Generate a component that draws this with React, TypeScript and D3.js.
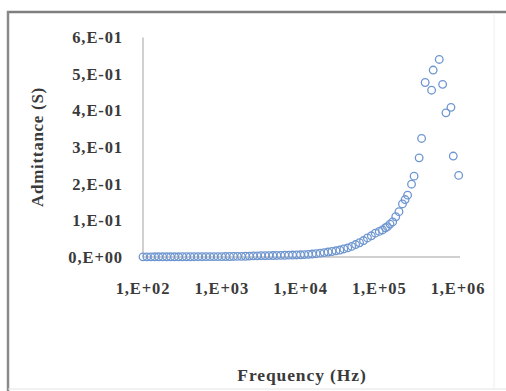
import React from "react"
import * as d3 from "d3"

const frequency = [
  100, 112, 126, 141, 158, 178, 200, 224, 251, 282, 316, 355, 398, 447, 501, 562, 631, 708, 794, 891,
  1000, 1120, 1260, 1410, 1580, 1780, 2000, 2240, 2510, 2820, 3160, 3550, 3980, 4470, 5010, 5620, 6310, 7080, 7940, 8910,
  10000, 11200, 12600, 14100, 15800, 17800, 20000, 22400, 25100, 28200, 31600, 35500, 39800, 44700, 50100, 56200, 63100, 70800, 79400, 89100,
  100000, 110000, 120000, 127000, 137000, 148000, 162000, 178000, 197000, 213000, 229000, 257000, 277000, 321000, 345000,
  383000, 462000, 484000, 578000, 638000, 703000, 814000, 871000, 1020000,
]
const admittance = [
  0.0004, 0.0004, 0.0004, 0.0005, 0.0005, 0.0005, 0.0005, 0.0006, 0.0006, 0.0006, 0.0007, 0.0007, 0.0007, 0.0008, 0.0008, 0.0008, 0.0009, 0.0009, 0.001, 0.001,
  0.001, 0.0012, 0.0013, 0.0015, 0.0016, 0.0018, 0.002, 0.0025, 0.003, 0.0032, 0.0035, 0.0036, 0.0038, 0.004, 0.0042, 0.0045, 0.0048, 0.005, 0.0053, 0.0056,
  0.006, 0.0065, 0.0072, 0.008, 0.009, 0.0105, 0.012, 0.0135, 0.015, 0.017, 0.019, 0.022, 0.025, 0.029, 0.034, 0.039, 0.045, 0.052, 0.058, 0.065,
  0.07, 0.074, 0.08, 0.083, 0.09, 0.096, 0.11, 0.124, 0.145, 0.157, 0.169, 0.199, 0.221, 0.271, 0.324,
  0.477, 0.456, 0.511, 0.54, 0.472, 0.394, 0.409, 0.276, 0.223,
]

const xTicks = [1e2, 1e3, 1e4, 1e5, 1e6]
const xTickLabels = ["1,E+02", "1,E+03", "1,E+04", "1,E+05", "1,E+06"]
const yTicks = [0, 0.1, 0.2, 0.3, 0.4, 0.5, 0.6]
const yTickLabels = ["0,E+00", "1,E-01", "2,E-01", "3,E-01", "4,E-01", "5,E-01", "6,E-01"]

const width = 506
const height = 391
const font = "'Liberation Serif', 'DejaVu Serif', serif"

const App = () => {
  const x = d3.scaleLog().domain([1e2, 1e6]).range([143, 458])
  const y = d3.scaleLinear().domain([0, 0.6]).range([257, 37.5])

  return (
    <svg width={width} height={height} style={{ position: "absolute", left: 0, top: 0 }}>
      <rect x={0} y={0} width={width} height={height} fill="#fff" />
      {/* frame */}
      <line x1={7} x2={506} y1={12} y2={12} stroke="#7f7f7f" strokeWidth={2.5} />
      <line x1={8} x2={8} y1={11} y2={391} stroke="#8a8a8a" strokeWidth={2.5} />
      <line x1={8} x2={506} y1={389} y2={389} stroke="#e4e4e4" strokeWidth={1} />
      <line x1={494} x2={494} y1={13} y2={389} stroke="#eeeeee" strokeWidth={1} />

      {/* axes */}
      <line x1={x(1e2)} x2={x(1e2)} y1={y(0.6)} y2={y(0)} stroke="#c0c0c0" strokeWidth={1.5} />
      <line x1={x(1e2)} x2={460} y1={y(0)} y2={y(0)} stroke="#c0c0c0" strokeWidth={1.5} />

      {yTicks.map((t, i) => (
        <text key={t} x={123} y={y(t)} dy="0.35em" textAnchor="end" letterSpacing={0.9}
          fontFamily={font} fontWeight="bold" fontSize={16.5} fill="#3a3a3a">
          {yTickLabels[i]}
        </text>
      ))}
      {xTicks.map((t, i) => (
        <text key={t} x={x(t)} y={288} dy="0.35em" textAnchor="middle" letterSpacing={0.9}
          fontFamily={font} fontWeight="bold" fontSize={16.5} fill="#3a3a3a">
          {xTickLabels[i]}
        </text>
      ))}

      {frequency.map((f, i) => (
        <circle key={i} cx={x(f)} cy={y(admittance[i])} r={3.8}
          fill="none" stroke="#6e96d0" strokeWidth={1.3} />
      ))}

      <text x={302} y={375} dy="0.35em" textAnchor="middle" letterSpacing={0.9}
        fontFamily={font} fontWeight="bold" fontSize={17.5} fill="#3a3a3a">
        Frequency (Hz)
      </text>
      <text transform={`translate(37,147) rotate(-90)`} dy="0.35em" textAnchor="middle" letterSpacing={0.7}
        fontFamily={font} fontWeight="bold" fontSize={17} fill="#3a3a3a">
        Admittance (S)
      </text>
    </svg>
  )
}

export default App
